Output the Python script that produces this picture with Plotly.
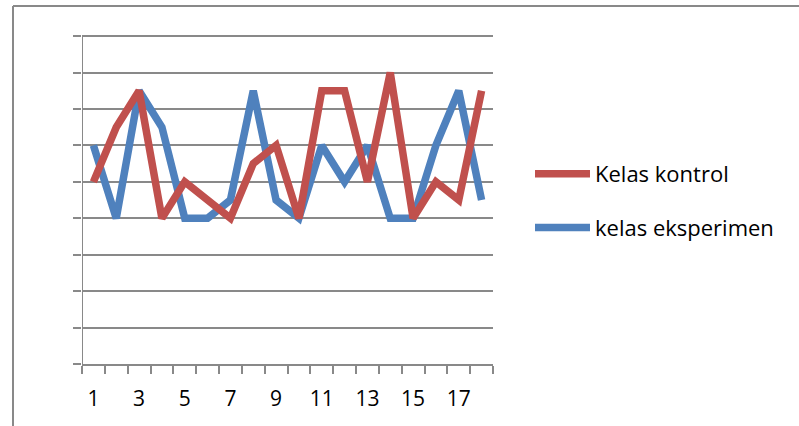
import plotly.graph_objects as go

categories = list(range(1, 19))
kelas_kontrol = [5, 6.5, 7.5, 4, 5, 4.5, 4, 5.5, 6, 4, 7.5, 7.5, 5, 8, 4, 5, 4.5, 7.5]
kelas_eksperimen = [6, 4, 7.5, 6.5, 4, 4, 4.5, 7.5, 4.5, 4, 6, 5, 6, 4, 4, 6, 7.5, 4.5]
tick_vals = [1, 3, 5, 7, 9, 11, 13, 15, 17]
tick_text = [str(v) for v in tick_vals]

W, H = 799, 426
L, R, T, B = 82, 306, 35, 62
pw, ph = W - L - R, H - T - B
grey = "#898989"

fig = go.Figure()
fig.add_trace(go.Scatter(x=categories, y=kelas_eksperimen, mode="lines", name="kelas eksperimen",
                         line=dict(color="#4F81BD", width=7.5), legendrank=2, legendgroup="b"))
fig.add_trace(go.Scatter(x=categories, y=kelas_kontrol, mode="lines", name="Kelas kontrol",
                         line=dict(color="#C0504D", width=7.5), legendrank=1, legendgroup="a"))

def px_x(p):
    return (p - L) / pw

def px_y(p):
    return 1 - (p - T) / ph

fig.update_layout(
    width=W, height=H,
    margin=dict(l=L, r=R, t=T, b=B, pad=0),
    paper_bgcolor="white", plot_bgcolor="white",
    font=dict(family="Open Sans", size=21, color="black"),
    showlegend=True,
    legend=dict(x=px_x(530), y=px_y(153), xanchor="left", yanchor="top",
                font=dict(size=22), itemwidth=55, tracegroupgap=22,
                traceorder="grouped", bgcolor="rgba(0,0,0,0)"),
    xaxis=dict(range=[0.5, 18.5], tickmode="array", tickvals=tick_vals, ticktext=tick_text,
               ticks="", showgrid=False, zeroline=False, showline=True, linecolor=grey, linewidth=2,
               ticklabelstandoff=15, tickfont=dict(size=21),
               minor=dict(ticks="outside", tick0=0.5, dtick=1, ticklen=8, tickcolor=grey, tickwidth=2, showgrid=False)),
    yaxis=dict(range=[0, 9.03], dtick=1, showticklabels=False, ticks="outside", ticklen=8, tickcolor=grey, tickwidth=2,
               showgrid=True, gridcolor=grey, gridwidth=2, zeroline=False, showline=False),
    shapes=[
        dict(type="line", xref="paper", yref="paper", x0=px_x(13), x1=px_x(W + 5), y0=px_y(6), y1=px_y(6),
             line=dict(color=grey, width=2)),
        dict(type="line", xref="paper", yref="paper", x0=px_x(13), x1=px_x(13), y0=px_y(6), y1=px_y(H + 5),
             line=dict(color=grey, width=2)),
        dict(type="line", xref="x", yref="y", x0=0.5, x1=0.5, y0=0, y1=9,
             line=dict(color=grey, width=2), layer="below"),
    ],
)

fig.write_html("out.html")
